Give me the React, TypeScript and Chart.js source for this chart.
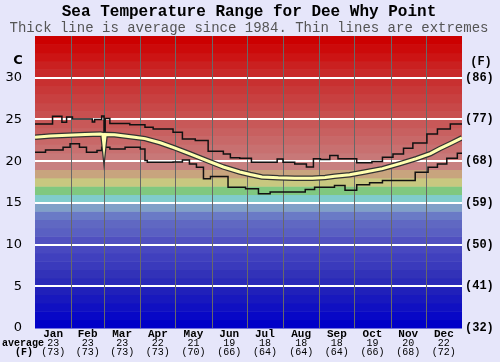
import React, { useEffect, useRef } from 'react';
import { Chart, registerables } from 'chart.js';
Chart.register(...registerables);

const TITLE = 'Sea Temperature Range for Dee Why Point';
const SUBTITLE = 'Thick line is average since 1984. Thin lines are extremes';
const months = ['Jan', 'Feb', 'Mar', 'Apr', 'May', 'Jun', 'Jul', 'Aug', 'Sep', 'Oct', 'Nov', 'Dec'];
const monthAvgC = ['23', '23', '23', '22', '21', '19', '18', '18', '18', '19', '20', '22'];
const monthAvgF = ['(73)', '(73)', '(73)', '(73)', '(70)', '(66)', '(64)', '(64)', '(64)', '(66)', '(68)', '(72)'];
const monthStartDays = [0, 31, 59, 90, 120, 151, 181, 212, 243, 273, 304, 334, 365];

// average temperature (C) by day of year
const avgDays = [0, 13, 28, 43, 56, 58, 59, 60, 68, 85, 94, 107, 118, 132, 147, 161, 175, 184, 194, 208, 222, 237, 248, 256, 269, 282, 297, 312, 326, 338, 346, 355, 365];
const avgTemps = [22.86, 23.0, 23.1, 23.2, 23.26, 23.2, 21.9, 23.2, 23.15, 22.86, 22.7, 22.2, 21.66, 20.9, 20.07, 19.3, 18.7, 18.4, 18.1, 18.0, 17.95, 17.96, 18.05, 18.2, 18.36, 18.7, 19.1, 19.7, 20.3, 20.9, 21.5, 22.1, 22.8];

// highest recorded (C)
const maxDays = [0, 15, 23, 27, 32, 49, 51, 57, 59, 60, 64, 81, 94, 101, 118, 126, 137, 148, 161, 167, 175, 185, 199, 207, 212, 222, 232, 238, 244, 252, 259, 275, 288, 297, 306, 315, 323, 335, 344, 355, 365];
const maxTemps = [24.45, 25.37, 24.65, 25.3, 25.05, 24.7, 25.0, 25.4, 23.4, 25.1, 24.5, 24.37, 24.05, 23.86, 23.45, 22.66, 22.46, 21.2, 20.87, 20.4, 20.35, 19.87, 19.87, 20.27, 19.87, 19.67, 19.3, 20.3, 20.2, 20.67, 20.3, 19.8, 19.95, 20.47, 20.87, 21.54, 22.18, 23.26, 23.86, 24.45, 24.45];

// lowest recorded (C)
const minDays = [0, 9, 24, 30, 38, 44, 53, 57, 64, 77, 90, 94, 96, 118, 126, 132, 138, 144, 150, 165, 180, 191, 201, 231, 239, 256, 265, 275, 286, 297, 325, 336, 344, 352, 361, 365];
const minTemps = [21.07, 21.35, 21.66, 22.07, 21.66, 21.07, 21.27, 21.66, 21.47, 21.66, 21.47, 20.07, 19.87, 19.9, 20.15, 19.67, 19.27, 17.88, 18.16, 16.88, 16.69, 16.09, 16.29, 16.6, 16.88, 17.08, 16.5, 17.17, 17.4, 17.68, 18.67, 19.27, 19.67, 20.35, 20.95, 20.95];

const yTicksC = [0, 5, 10, 15, 20, 25, 30];

// one colour per 1 C band, from 0-1 up to 34-35
const bandColors = [
  '#0000c8', '#0808c6', '#1010c2', '#1818be', '#2020ba',
  '#2a2ab8', '#3232b8', '#3a3abc', '#4040be', '#4848c0',
  '#5050c0', '#5a60c2', '#6068c2', '#6a7ac6', '#80a0c8',
  '#80cccc', '#80c880', '#c8c880', '#c8a47e', '#c88080',
  '#c87878', '#c87070', '#c86868', '#c86060', '#c85858',
  '#c85050', '#c84848', '#c84040', '#c83838', '#c83030',
  '#c82828', '#ca2020', '#cc1414', '#cc0a0a', '#cc0000',
];

const toPts = (d: number[], v: number[]) => d.map((x, i) => ({ x, y: v[i] }));
const cToF = (c: number) => Math.round(c * 9 / 5 + 32);

const bgPlugin = {
  id: 'bgBands',
  beforeDatasetsDraw(chart: any) {
    const { ctx, chartArea, scales } = chart;
    const ys = scales.y;
    const xs = scales.x;
    ctx.save();
    bandColors.forEach((c, i) => {
      const top = ys.getPixelForValue(i + 1);
      const bot = ys.getPixelForValue(i);
      ctx.fillStyle = c;
      ctx.fillRect(chartArea.left, top, chartArea.right - chartArea.left, bot - top + 0.5);
    });
    ctx.strokeStyle = '#ffffff';
    ctx.lineWidth = 2;
    yTicksC.slice(1).forEach((v) => {
      const y = Math.round(ys.getPixelForValue(v));
      ctx.beginPath();
      ctx.moveTo(chartArea.left, y);
      ctx.lineTo(chartArea.right, y);
      ctx.stroke();
    });
    ctx.strokeStyle = '#686868';
    ctx.lineWidth = 1;
    monthStartDays.slice(1, 12).forEach((d) => {
      const x = Math.round(xs.getPixelForValue(d)) + 0.5;
      ctx.beginPath();
      ctx.moveTo(x, chartArea.top);
      ctx.lineTo(x, chartArea.bottom);
      ctx.stroke();
    });
    ctx.restore();
  },
};

const textPlugin = {
  id: 'texts',
  afterDraw(chart: any) {
    const { ctx, scales, chartArea } = chart;
    const xs = scales.x;
    const mono = "'Liberation Mono', 'Courier New', monospace";
    ctx.save();
    ctx.textAlign = 'center';
    ctx.textBaseline = 'middle';
    ctx.fillStyle = '#000';
    ctx.font = `bold 16px ${mono}`;
    ctx.fillText(TITLE, 249, 12);
    ctx.fillStyle = '#555';
    ctx.font = `14px ${mono}`;
    ctx.fillText(SUBTITLE, 249, 28);

    ctx.fillStyle = '#000';
    ctx.font = "bold 13px 'DejaVu Sans', sans-serif";
    ctx.fillText('C', 18, 61);
    ctx.font = `bold 12px ${mono}`;
    ctx.fillText('(F)', 481, 62);

    months.forEach((m, i) => {
      const cx = (xs.getPixelForValue(monthStartDays[i]) + xs.getPixelForValue(monthStartDays[i + 1])) / 2;
      ctx.font = `bold 11px ${mono}`;
      ctx.fillText(m, cx, chartArea.bottom + 6);
      ctx.font = `10px ${mono}`;
      ctx.fillText(monthAvgC[i], cx, chartArea.bottom + 15);
      ctx.fillText(monthAvgF[i], cx, chartArea.bottom + 24);
    });
    ctx.font = `bold 10px ${mono}`;
    ctx.textAlign = 'left';
    ctx.fillText('average', 2, chartArea.bottom + 15);
    ctx.textAlign = 'center';
    ctx.fillText('(F)', 24, chartArea.bottom + 24);
    ctx.restore();
  },
};

export default function App() {
  const ref = useRef<HTMLCanvasElement | null>(null);
  useEffect(() => {
    document.body.style.margin = '0';
    document.body.style.background = '#e6e6fa';
    const chart = new Chart(ref.current as HTMLCanvasElement, {
      type: 'line',
      data: {
        datasets: [
          {
            label: 'avg',
            data: toPts(avgDays, avgTemps),
            borderColor: '#ffffb0',
            borderWidth: 3,
            pointRadius: 0,
            tension: 0,
            fill: false,
          },
          {
            label: 'avg outline',
            data: toPts(avgDays, avgTemps),
            borderColor: '#333',
            borderWidth: 5.5,
            pointRadius: 0,
            tension: 0,
            fill: false,
          },
          {
            label: 'max',
            data: toPts(maxDays, maxTemps),
            borderColor: '#111',
            borderWidth: 1.5,
            pointRadius: 0,
            stepped: 'before',
            fill: false,
          },
          {
            label: 'min',
            data: toPts(minDays, minTemps),
            borderColor: '#111',
            borderWidth: 1.5,
            pointRadius: 0,
            stepped: 'before',
            fill: false,
          },
        ],
      },
      options: {
        animation: false,
        responsive: false,
        layout: { padding: { top: 36, bottom: 34, left: 0, right: 0 } },
        plugins: { legend: { display: false }, tooltip: { enabled: false }, title: { display: false } },
        scales: {
          x: { type: 'linear', min: 0, max: 365, display: false },
          y: {
            position: 'left',
            min: 0,
            max: 35,
            afterBuildTicks: (s: any) => { s.ticks = yTicksC.map((v) => ({ value: v })); },
            ticks: {
              callback: (v: any) => String(v),
              font: { family: "'DejaVu Sans', sans-serif", size: 13 },
              color: '#000',
              padding: 13,
            },
            grid: { display: false, drawTicks: false },
            border: { display: false },
            afterFit: (s: any) => { s.width = 35; },
          },
          y2: {
            position: 'right',
            min: 0,
            max: 35,
            afterBuildTicks: (s: any) => { s.ticks = yTicksC.map((v) => ({ value: v })); },
            ticks: {
              callback: (v: any) => `(${cToF(Number(v))})`,
              font: { family: "'Liberation Mono', 'Courier New', monospace", size: 12, weight: 'bold' },
              color: '#000',
              padding: 3,
            },
            grid: { display: false, drawTicks: false },
            border: { display: false },
            afterFit: (s: any) => { s.width = 38; },
          },
        },
      },
      plugins: [bgPlugin, textPlugin],
    } as any);
    return () => chart.destroy();
  }, []);
  return (
    <div style={{ position: 'absolute', left: 0, top: 0, width: 500, height: 362, background: '#e6e6fa' }}>
      <canvas ref={ref} width={500} height={362} style={{ width: 500, height: 362, display: 'block' }} />
    </div>
  );
}
